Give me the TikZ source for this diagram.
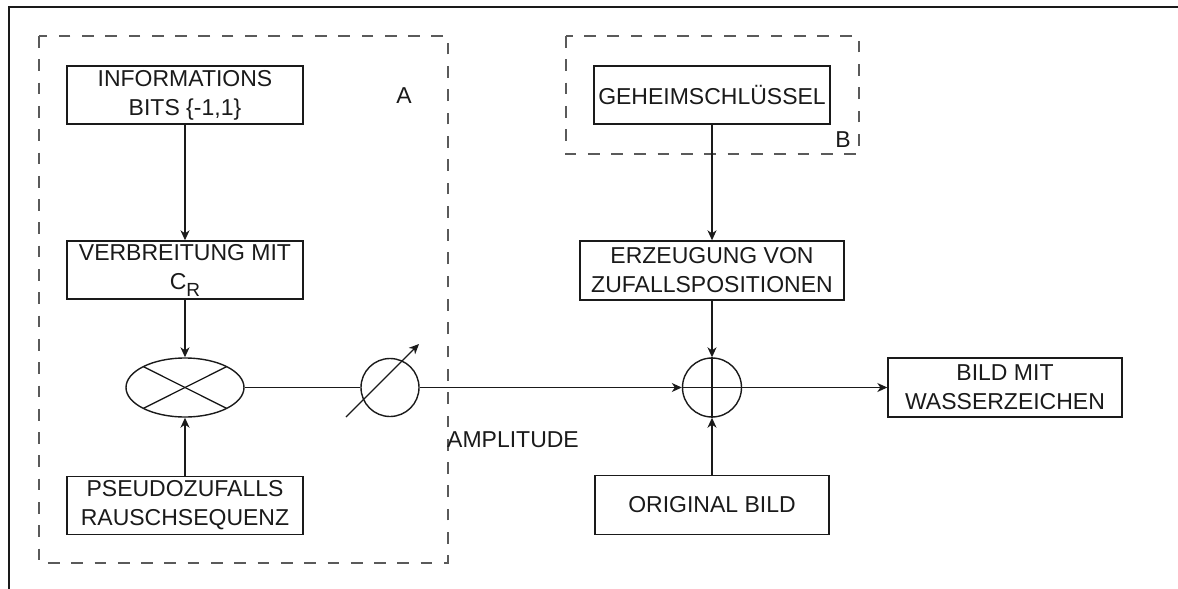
\documentclass[tikz,border=0pt]{standalone}
\usepackage{fontspec}
\setmainfont{Liberation Sans}
\usetikzlibrary{arrows.meta,shapes.geometric}

\definecolor{ink}{HTML}{1A1A1A}
\definecolor{dashgray}{HTML}{5A5A5A}

\tikzset{
  block/.style={draw=ink, line width=1.4pt, rectangle, minimum width=236pt,
    minimum height=58pt, inner sep=0pt, align=center, text=ink,
    font=\fontsize{23}{29}\selectfont},
  group/.style={draw=dashgray, line width=1.6pt, dash pattern=on 11.7pt off 11.6pt},
  flow/.style={draw=ink, line width=1.3pt, -{Stealth[length=10pt,width=9pt,inset=3pt]}},
  wire/.style={draw=ink, line width=1.3pt},
  tag/.style={text=ink, font=\fontsize{23}{29}\selectfont, inner sep=0pt}
}

\begin{document}
\begin{tikzpicture}[x=1pt,y=-1pt]
  \useasboundingbox (0,0) rectangle (1178,589);

  % outer frame (left and top edges)
  \draw[ink, line width=1.6pt] (9,589) -- (9,7) -- (1178,7);

  % dashed groups
  \draw[group, dash phase=0pt] (39,36) rectangle (448,563);
  \draw[group] (566,36) rectangle (859,154);
  \node[tag] (labA) at (404,96) {A};
  \node[tag] (labB) at (843,140) {B};

  % left chain
  \node[block] (info) at (185,95) {INFORMATIONS\\BITS \{-1,1\}};
  \node[block] (verb) at (185,270) {VERBREITUNG MIT\\C\raisebox{-7pt}{\fontsize{19}{19}\selectfont R}};
  \node[draw=ink, line width=1.4pt, ellipse, minimum width=118pt, minimum height=59pt, inner sep=0pt] (mult) at (185,387.5) {};
  \draw[wire] ([shift={(-41.7,-20.9)}]mult.center) -- ([shift={(41.7,20.9)}]mult.center);
  \draw[wire] ([shift={(-41.7,20.9)}]mult.center) -- ([shift={(41.7,-20.9)}]mult.center);
  \node[block] (pseudo) at (185,505.5) {PSEUDOZUFALLS\\RAUSCHSEQUENZ};

  % amplitude control
  \node[draw=ink, line width=1.4pt, circle, minimum size=58pt, inner sep=0pt] (amp) at (390,387.5) {};
  \coordinate (ampfrom) at (346,417);
  \coordinate (ampto) at (419,344);
  \draw[flow] (ampfrom) -- (ampto);
  \node[tag, anchor=base west] (ampl) at (447,447) {AMPLITUDE};

  % right chain
  \node[block] (geheim) at (712,95) {GEHEIMSCHLÜSSEL};
  \node[block, minimum width=264pt, minimum height=59pt] (erz) at (712,270.5) {ERZEUGUNG VON\\ZUFALLSPOSITIONEN};
  \node[draw=ink, line width=1.4pt, circle, minimum size=59pt, inner sep=0pt] (sum) at (712,387.5) {};
  \draw[wire] (sum.north) -- (sum.south);
  \draw[wire] (sum.west) -- (sum.east);
  \node[block, minimum width=234pt, minimum height=59pt] (orig) at (712,505) {ORIGINAL BILD};
  \node[block, minimum width=234pt, minimum height=59pt] (bild) at (1005,387.5) {BILD MIT\\WASSERZEICHEN};

  % connectors
  \draw[flow] (info) -- (verb);
  \draw[flow] (verb) -- (mult);
  \draw[flow] (pseudo) -- (mult);
  \draw[wire] (mult) -- (amp);
  \draw[flow] (amp) -- (sum);
  \draw[flow] (geheim) -- (erz);
  \draw[flow] (erz) -- (sum);
  \draw[flow] (orig) -- (sum);
  \draw[flow] (sum) -- (bild);
\end{tikzpicture}
\end{document}
